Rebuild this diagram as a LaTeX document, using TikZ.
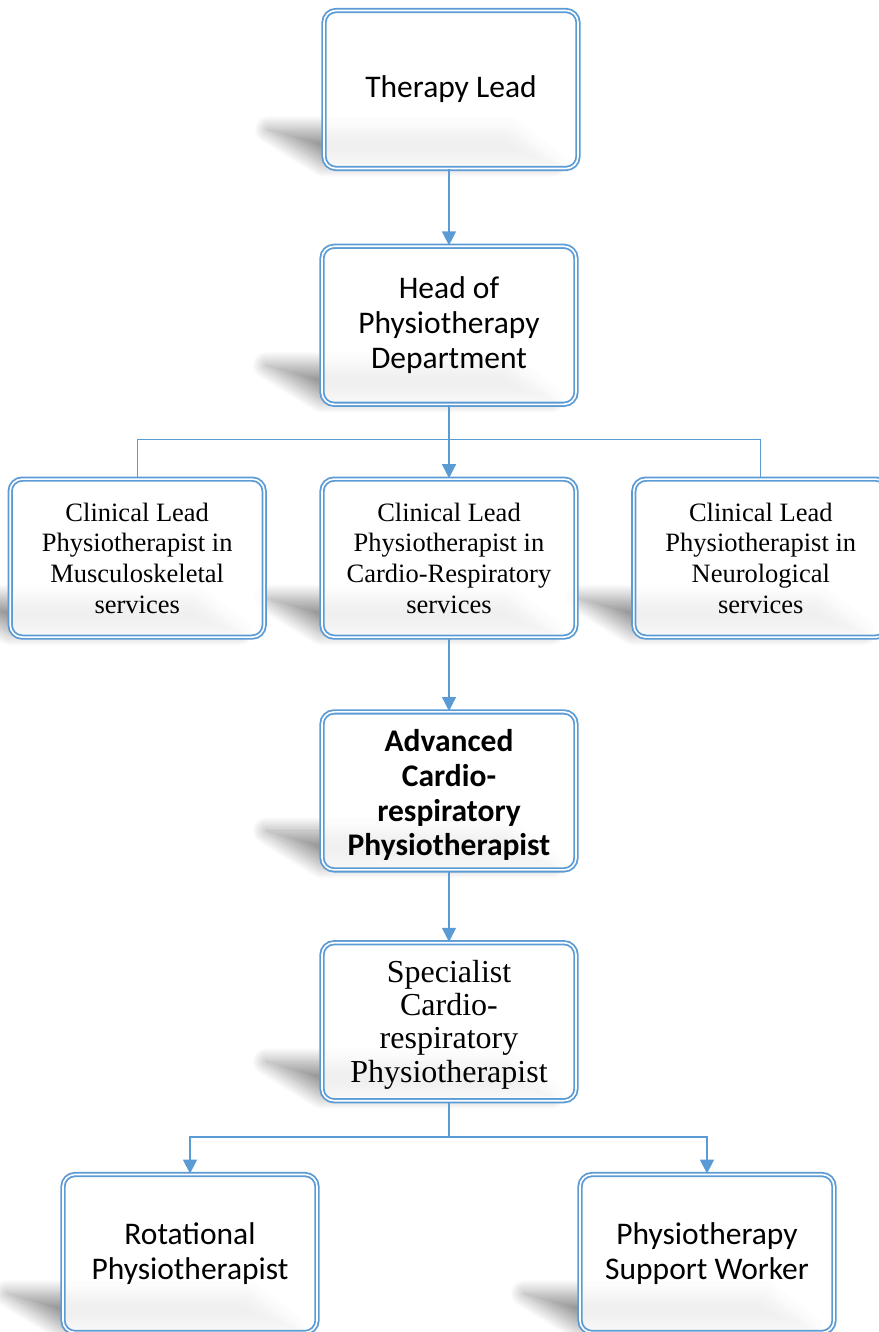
\documentclass[tikz,border=0pt]{standalone}
\usepackage{fontspec}
\setmainfont{Carlito}
\newfontfamily\timesfont{Liberation Serif}
\usetikzlibrary{positioning,arrows.meta,calc,backgrounds,shadows.blur}
\definecolor{boxblue}{HTML}{5B9BD5}

\begin{document}
\begin{tikzpicture}[
            x=1pt, y=1pt,
            role/.style={rectangle, rounded corners=12pt, draw=boxblue, line width=1.8pt, double=white, double distance=1.6pt,
                         fill=white, fill opacity=0.85, text opacity=1, align=center,
                         minimum width=254pt, minimum height=158pt, inner sep=0pt,
                         font=\fontsize{31.5}{34.7}\selectfont},
            serifrole/.style={role, font=\timesfont\fontsize{26.5}{30.7}\selectfont},
            link/.style={draw=boxblue, line width=1.3pt, -{Triangle[length=14pt, width=14pt]}},
            line/.style={draw=boxblue, line width=1.3pt}
        ]
            \useasboundingbox (0,0) rectangle (878,-1332);

            % Main boxes
            \node[role] (lead) at (451,-89.5) {Therapy Lead};
            \node[role, below=76pt of lead, xshift=-2pt] (head) {Head of\\Physiotherapy\\Department};
            \node[serifrole, below=73pt of head] (cardio) {Clinical Lead\\Physiotherapist in\\Cardio-Respiratory\\services};
            \node[serifrole, left=56pt of cardio] (msk) {Clinical Lead\\Physiotherapist in\\Musculoskeletal\\services};
            \node[serifrole, right=56pt of cardio] (neuro) {Clinical Lead\\Physiotherapist in\\Neurological\\services};
            \node[role, below=73pt of cardio, font=\bfseries\fontsize{31.5}{34.7}\selectfont] (adv) {\rule{0pt}{31pt}Advanced\\Cardio-\\respiratory\\Physiotherapist};
            \node[serifrole, below=71pt of adv, font=\timesfont\fontsize{32}{33.4}\selectfont] (special) {\rule{0pt}{28pt}Specialist\\Cardio-\\respiratory\\Physiotherapist};
            \node[role, below=72pt of special, xshift=-259pt] (rot) {Rotational\\Physiotherapist};
            \node[role, below=72pt of special, xshift=258pt] (support) {Physiotherapy\\Support Worker};

            % Shadows
            \begin{scope}[on background layer]
                \foreach \n in {lead,head,msk,cardio,neuro,adv,special,rot,support}
                    \path[blur shadow={shadow xshift=0pt, shadow yshift=0pt, shadow opacity=40, shadow blur radius=14pt, shadow blur steps=24}]
                        ($(\n.south west)+(-55,40)$) -- ($(\n.south east)+(-70,40)$) -- ($(\n.south east)+(-25,6)$) -- ($(\n.south west)+(0,6)$) -- cycle;
            \end{scope}

            % Arrows
            \coordinate (split) at ($(head.south)!0.466!(cardio.north)$);
            \coordinate (fork) at ($(special.south)!0.49!(special.south |- rot.north)$);
            \draw[link] (lead.south -| head.north) -- (head);
            \draw[link] (head) -- (cardio);
            \draw[line] (msk.north) |- (split) -| (neuro.north);
            \draw[link] (cardio) -- (adv);
            \draw[link] (adv) -- (special);
            \draw[link] (special.south) -- (fork) -| (rot.north);
            \draw[link] (fork) -| (support.north);
        \end{tikzpicture}
\end{document}
